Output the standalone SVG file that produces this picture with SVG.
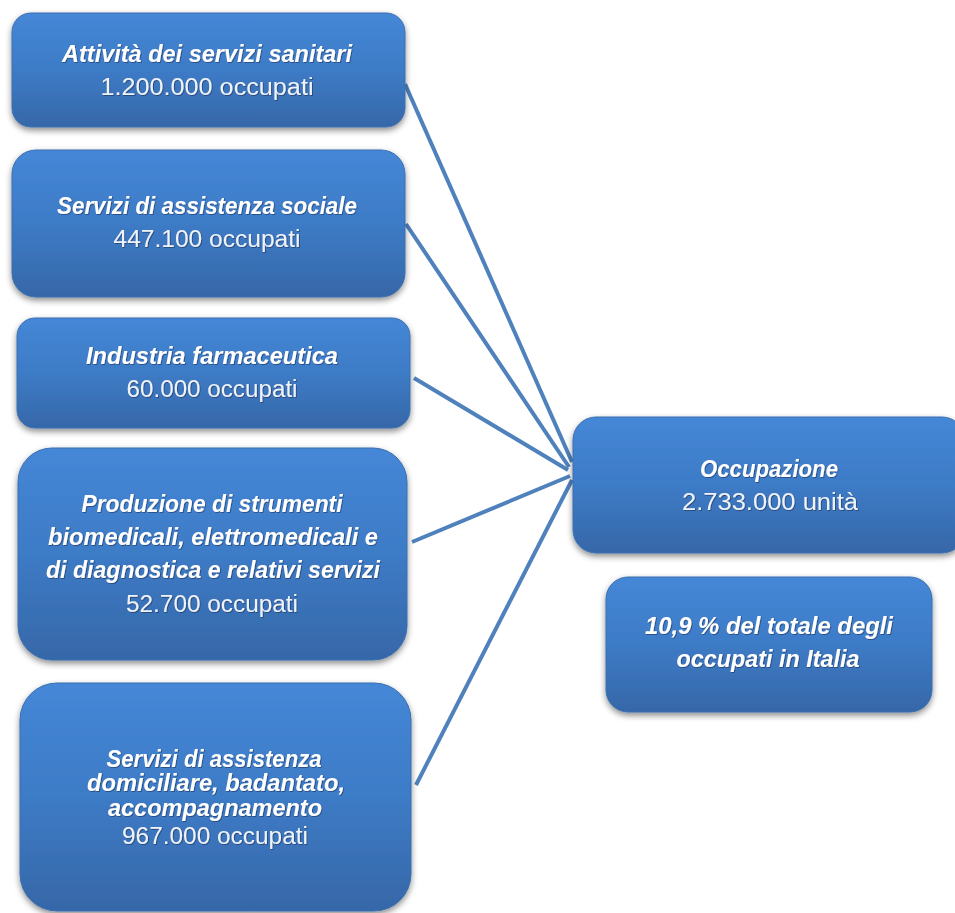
<svg xmlns="http://www.w3.org/2000/svg" width="955" height="913" viewBox="0 0 955 913">
<defs>
<linearGradient id="g" x1="0" y1="0" x2="0" y2="1">
<stop offset="0" stop-color="#4587d7"/>
<stop offset="0.5" stop-color="#3d7bc6"/>
<stop offset="1" stop-color="#3667a8"/>
</linearGradient>
<filter id="sh" x="-10%" y="-10%" width="120%" height="130%">
<feDropShadow dx="0" dy="3" stdDeviation="3" flood-color="#000" flood-opacity="0.45"/>
</filter>
<filter id="ts" x="-5%" y="-20%" width="110%" height="140%">
<feDropShadow dx="0.8" dy="0.8" stdDeviation="0.6" flood-color="#0a2340" flood-opacity="0.6"/>
</filter>
</defs>
<style>
.box{fill:url(#g);stroke:#3a6fb0;stroke-width:1;filter:url(#sh)}
.t{font-family:"Liberation Sans",Arial,sans-serif;font-size:23.5px;text-anchor:middle;filter:url(#ts)}
.b{font-weight:bold;font-style:italic;fill:#ffffff}
.r{fill:#eef3fa}
.c{stroke:#4f81bd;stroke-width:4;fill:none;stroke-linecap:butt}
</style>
<rect width="955" height="913" fill="#ffffff"/>
<g id="connectors">
<line class="c" x1="405" y1="84" x2="572" y2="462"/>
<line class="c" x1="406" y1="224" x2="569" y2="467"/>
<line class="c" x1="414" y1="378" x2="568" y2="470"/>
<line class="c" x1="412" y1="542" x2="570" y2="476"/>
<line class="c" x1="416" y1="785" x2="572" y2="480"/>
</g>
<g id="n1">
<rect class="box" x="12" y="13" width="393" height="114" rx="19"/>
<text class="t b" x="207" y="62" textLength="290" lengthAdjust="spacingAndGlyphs">Attività dei servizi sanitari</text>
<text class="t r" x="207" y="95" textLength="213" lengthAdjust="spacingAndGlyphs">1.200.000 occupati</text>
</g>
<g id="n2">
<rect class="box" x="12" y="150" width="393" height="147" rx="24"/>
<text class="t b" x="207" y="214" textLength="300" lengthAdjust="spacingAndGlyphs">Servizi di assistenza sociale</text>
<text class="t r" x="207" y="247" textLength="187" lengthAdjust="spacingAndGlyphs">447.100 occupati</text>
</g>
<g id="n3">
<rect class="box" x="17" y="318" width="393" height="110" rx="18"/>
<text class="t b" x="212" y="364" textLength="252" lengthAdjust="spacingAndGlyphs">Industria farmaceutica</text>
<text class="t r" x="212" y="397" textLength="171" lengthAdjust="spacingAndGlyphs">60.000 occupati</text>
</g>
<g id="n4">
<rect class="box" x="18" y="448" width="389" height="212" rx="34"/>
<text class="t b" x="212" y="512" textLength="261" lengthAdjust="spacingAndGlyphs">Produzione di strumenti</text>
<text class="t b" x="213" y="545" textLength="330" lengthAdjust="spacingAndGlyphs">biomedicali, elettromedicali e</text>
<text class="t b" x="213" y="578" textLength="334" lengthAdjust="spacingAndGlyphs">di diagnostica e relativi servizi</text>
<text class="t r" x="212" y="612" textLength="172" lengthAdjust="spacingAndGlyphs">52.700 occupati</text>
</g>
<g id="n5">
<rect class="box" x="20" y="683" width="391" height="228" rx="37"/>
<text class="t b" x="214" y="767" textLength="215" lengthAdjust="spacingAndGlyphs">Servizi di assistenza</text>
<text class="t b" x="216" y="791" textLength="258" lengthAdjust="spacingAndGlyphs">domiciliare, badantato,</text>
<text class="t b" x="215" y="816" textLength="214" lengthAdjust="spacingAndGlyphs">accompagnamento</text>
<text class="t r" x="215" y="844" textLength="186" lengthAdjust="spacingAndGlyphs">967.000 occupati</text>
</g>
<g id="n6">
<rect class="box" x="573" y="417" width="392" height="136" rx="23"/>
<text class="t b" x="769" y="477" textLength="138" lengthAdjust="spacingAndGlyphs">Occupazione</text>
<text class="t r" x="770" y="510" textLength="176" lengthAdjust="spacingAndGlyphs">2.733.000 unità</text>
</g>
<g id="n7">
<rect class="box" x="606" y="577" width="326" height="135" rx="22"/>
<text class="t b" x="769" y="634" textLength="248" lengthAdjust="spacingAndGlyphs">10,9 % del totale degli</text>
<text class="t b" x="768" y="667" textLength="183" lengthAdjust="spacingAndGlyphs">occupati in Italia</text>
</g>
</svg>
